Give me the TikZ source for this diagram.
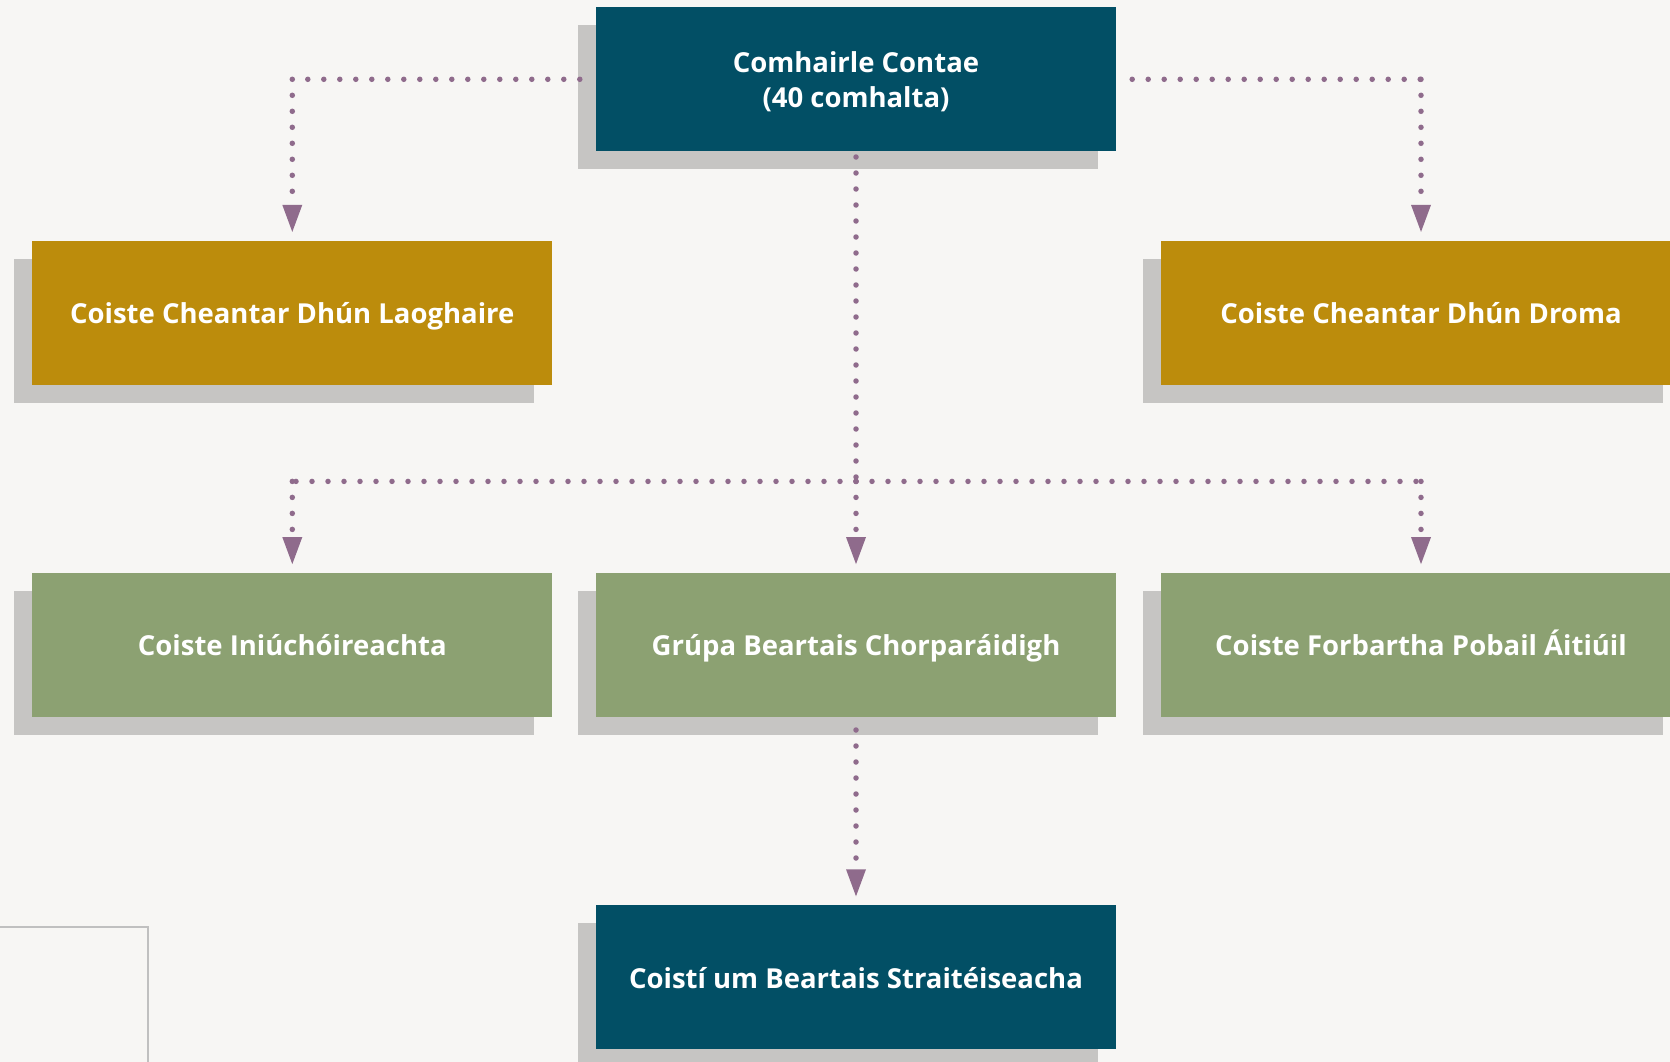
\documentclass[tikz,border=0pt]{standalone}
\usepackage{fontspec}
\setmainfont{Open Sans}
\usetikzlibrary{arrows.meta,shadows}
\definecolor{bgc}{HTML}{F7F6F4}
\definecolor{teal}{HTML}{024F65}
\definecolor{gold}{HTML}{BC8C0C}
\definecolor{sage}{HTML}{8CA172}
\definecolor{shade}{HTML}{C6C5C3}
\definecolor{dotc}{HTML}{8F6B8C}
\definecolor{framec}{HTML}{C0C0C0}
\tikzset{
  box/.style={minimum width=520pt, minimum height=144pt, inner sep=0pt, text=white,
    font=\fontsize{27.5}{35}\selectfont\bfseries, align=center,
    text height=26pt, text depth=4pt,
    drop shadow={shadow xshift=-18pt, shadow yshift=-18pt, fill=shade, opacity=1}},
  tealbox/.style={box, fill=teal},
  goldbox/.style={box, fill=gold},
  sagebox/.style={box, fill=sage},
  dotline/.style={draw=dotc, line width=5.5pt, line cap=round, dash pattern=on 0pt off 16pt},
  arr/.style={-{Triangle[width=20pt,length=27pt,fill=dotc,line width=0pt]}, shorten >=8.5pt},
}
\begin{document}
\begin{tikzpicture}[x=1pt,y=-1pt]
\clip (0,0) rectangle (1670,1062);
\fill[bgc] (0,0) rectangle (1670,1062);
\draw[framec, line width=1.5pt] (-2,927) rectangle (148,1064);

\node[tealbox, text height=58pt, text depth=2pt] (top) at (856,79.3) {Comhairle Contae\\(40 comhalta)};
\node[goldbox] (yl) at (292.3,312.6) {Coiste Cheantar Dhún Laoghaire};
\node[goldbox] (yr) at (1421,312.6) {Coiste Cheantar Dhún Droma};
\node[sagebox] (gl) at (292.3,644.8) {Coiste Iniúchóireachta};
\node[sagebox] (gm) at (856,644.8) {Grúpa Beartais Chorparáidigh};
\node[sagebox] (gr) at (1421,644.8) {Coiste Forbartha Pobail Áitiúil};
\node[tealbox] (bot) at (856,977) {Coistí um Beartais Straitéiseacha};

\coordinate (hub) at (856,481.4);
\coordinate (tl) at ([xshift=-16pt]top.west);
\coordinate (tr) at ([xshift=16pt]top.east);

\draw[dotline] (tl) -- (yl.north |- tl);
\draw[dotline, arr] (yl.north |- tl) -- (yl.north);
\draw[dotline] (tr) -- (yr.north |- tr);
\draw[dotline, arr] (yr.north |- tr) -- (yr.north);

\draw[dotline, shorten <=5.5pt] (top.south) -- (hub);
\draw[dotline, arr] (hub) -- (gm.north);
\draw[dotline] (hub) -- (gl.north |- hub);
\draw[dotline, arr] (gl.north |- hub) -- (gl.north);
\draw[dotline] (hub) -- (gr.north |- hub);
\draw[dotline, arr] (gr.north |- hub) -- (gr.north);

\draw[dotline, arr, shorten <=13pt] (gm.south) -- (bot.north);
\end{tikzpicture}
\end{document}
